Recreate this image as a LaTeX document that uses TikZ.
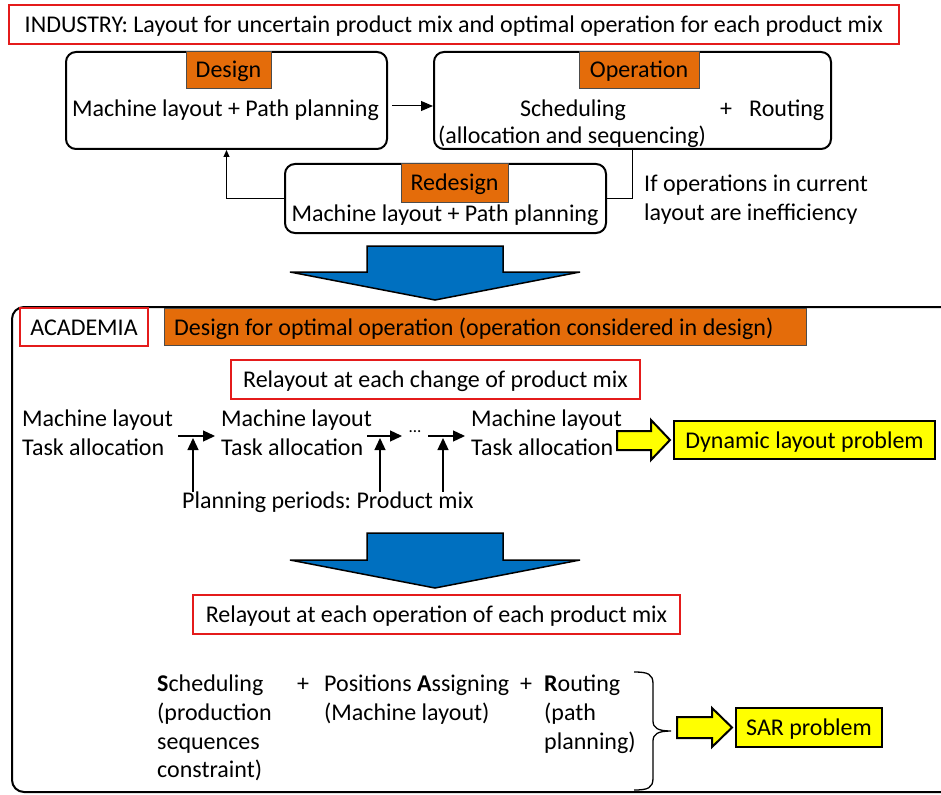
\documentclass[tikz,border=0pt]{standalone}
\usepackage{fontspec}
\setmainfont{Carlito}
\usetikzlibrary{arrows.meta}
\definecolor{accent}{HTML}{E46C0A}
\definecolor{flowblue}{HTML}{0070C0}
\definecolor{hilite}{HTML}{FFFF00}
\definecolor{framered}{HTML}{E41B1B}
\frenchspacing

\begin{document}
\begin{tikzpicture}[x=1pt,y=-1pt,
  font=\fontsize{24}{29}\selectfont,
  txt/.style={inner sep=0pt, anchor=base west, yshift=-1.5pt},
  ctxt/.style={inner sep=0pt, anchor=base, yshift=-1.5pt},
  redbox/.style={draw=framered, line width=1.6pt, fill=white, text height=17pt, text depth=1pt, inner sep=0pt},
  yelbox/.style={draw=black, line width=1.2pt, fill=hilite, text height=17pt, text depth=1pt, inner sep=0pt},
  tagbox/.style={draw=black!70, line width=0.8pt, fill=accent, text height=17pt, text depth=1pt, inner sep=0pt, anchor=north},
  stagebox/.style={draw=black, line width=2pt, rounded corners=10pt, inner sep=0pt, anchor=north west},
  thinarrow/.style={line width=1pt, -{Triangle[length=12pt,width=10pt]}},
  backarrow/.style={line width=1pt, -{Triangle[length=7pt,width=6pt]}},
  thinline/.style={line width=1pt},
  flow/.style={line width=1.3pt, -{Triangle[length=12pt,width=11pt]}},
  bigarrow/.style={fill=flowblue, draw=black, line width=1.5pt, line join=miter},
  fatarrow/.style={fill=hilite, draw=black, line width=2pt, line join=miter},
]
\useasboundingbox (0,0) rectangle (941,794);

% ---------------- industry part ----------------
\node[redbox, minimum width=890pt, minimum height=39pt, anchor=north west] (industry) at (8,4)
  {INDUSTRY: Layout for uncertain product mix and optimal operation for each product mix};

\node[stagebox, minimum width=321pt, minimum height=97pt] (design) at (65,51) {};
\node[tagbox, minimum width=85pt, minimum height=37pt] (designtag) at (228.5,51) {Design};
\node[ctxt] (designtxt) at (225.5,115) {Machine layout + Path planning};

\node[stagebox, minimum width=397pt, minimum height=97pt] (operation) at (433,51) {};
\node[tagbox, minimum width=120pt, minimum height=37pt] (operationtag) at (639,51) {Operation};
\node[ctxt] (sched) at (573,115) {Scheduling};
\node[ctxt] (plusop) at (726,115) {+};
\node[txt] (routing) at (749,115) {Routing};
\node[txt] (alloc) at (438,142) {(allocation and sequencing)};

\node[stagebox, minimum width=321pt, minimum height=69pt] (redesign) at (284,163) {};
\node[tagbox, minimum width=107pt, minimum height=39pt] (redesigntag) at (454.5,163) {Redesign};
\node[ctxt] (redesigntxt) at (445,220) {Machine layout + Path planning};

\node[txt] (ifa) at (644,190) {If operations in current};
\node[txt] (ifb) at (644,219) {layout are inefficiency};

\draw[thinarrow] ([xshift=4pt,yshift=-5.5pt]design.east) -- ([yshift=-5.5pt]operation.west);
\draw[backarrow] (redesign.west) -| (design.south);
\draw[thinline] (operation.south) |- (redesign.east);

% ---------------- transition arrow ----------------
\draw[bigarrow] (367,246) -- (503,246) -- (503,272) -- (580,272) -- (435,300)
  -- (290,272) -- (367,272) -- cycle;

% ---------------- academia part ----------------
\draw[line width=2pt, rounded corners=12pt] (944,307) -- (12,307) -- (12,792) -- (944,792);

\node[redbox, minimum width=128pt, minimum height=38pt] (academia) at (84,327) {ACADEMIA};
\node[draw=black!70, line width=0.8pt, fill=accent, minimum width=642pt, minimum height=37pt,
  inner sep=0pt, anchor=north west] (optdesign) at (164,308) {};
\node[txt] (optdesigntxt) at (174,334) {Design for optimal operation (operation considered in design)};

\node[redbox, minimum width=409pt, minimum height=39pt] (relayout) at (435.5,379.5)
  {Relayout at each change of product mix};

\node[txt] (p1a) at (22,425) {Machine layout};
\node[txt] (p1b) at (22,454) {Task allocation};
\node[txt] (p2a) at (221,425) {Machine layout};
\node[txt] (p2b) at (221,454) {Task allocation};
\node[txt] (p3a) at (471,425) {Machine layout};
\node[txt] (p3b) at (471,454) {Task allocation};
\node[ctxt, font=\fontsize{17}{17}\selectfont] (dots) at (415,431) {...};
\node[txt] (periods) at (182,507) {Planning periods: Product mix};

\coordinate (h1s) at (178,436); \coordinate (h1e) at (215,436);
\coordinate (h2s) at (367,436); \coordinate (h2e) at (402,436);
\coordinate (h3s) at (428,436); \coordinate (h3e) at (465,436);
\coordinate (v1) at (193,438); \coordinate (v2) at (380,438); \coordinate (v3) at (443,438);
\draw[flow] (h1s) -- (h1e);
\draw[flow] (h2s) -- (h2e);
\draw[flow] (h3s) -- (h3e);
\draw[flow] (v1 |- periods.north) -- (v1);
\draw[flow] (v2 |- periods.north) -- (v2);
\draw[flow] (v3 |- periods.north) -- (v3);

\draw[fatarrow] (617,431) -- (651,431) -- (651,420) -- (670,440) -- (651,460) -- (651,450) -- (617,450) -- cycle;
\node[yelbox, minimum width=261pt, minimum height=38pt] (dynamic) at (804.5,440) {Dynamic layout problem};

\draw[bigarrow] (367,533) -- (503,533) -- (503,560) -- (580,560) -- (435,588)
  -- (290,560) -- (367,560) -- cycle;

\node[redbox, minimum width=487pt, minimum height=39pt] (relayoutop) at (436.5,614.5)
  {Relayout at each operation of each product mix};

\node[txt] (s1) at (157,690) {\textbf{S}cheduling};
\node[txt] (s2) at (157,719) {(production};
\node[txt] (s3) at (157,748) {sequences};
\node[txt] (s4) at (157,776) {constraint)};
\node[ctxt] (plus1) at (303,690) {+};
\node[txt] (a1) at (324,690) {Positions \textbf{A}ssigning};
\node[txt] (a2) at (324,719) {(Machine layout)};
\node[ctxt] (plus2) at (526,690) {+};
\node[txt] (r1) at (544,690) {\textbf{R}outing};
\node[txt] (r2) at (544,719) {(path};
\node[txt] (r3) at (544,748) {planning)};

\draw[line width=1.3pt] (634,672) .. controls (648,672) and (653,674) .. (653,684)
  -- (653,721) .. controls (653,728) and (658,731) .. (671,731)
  .. controls (658,731) and (653,734) .. (653,741)
  -- (653,778) .. controls (653,788) and (648,790) .. (634,790);

\draw[fatarrow] (677,717) -- (712,717) -- (712,708) -- (732,727.5) -- (712,747) -- (712,738) -- (677,738) -- cycle;
\node[yelbox, minimum width=146pt, minimum height=39pt] (sar) at (809,727.5) {SAR problem};

\end{tikzpicture}
\end{document}
